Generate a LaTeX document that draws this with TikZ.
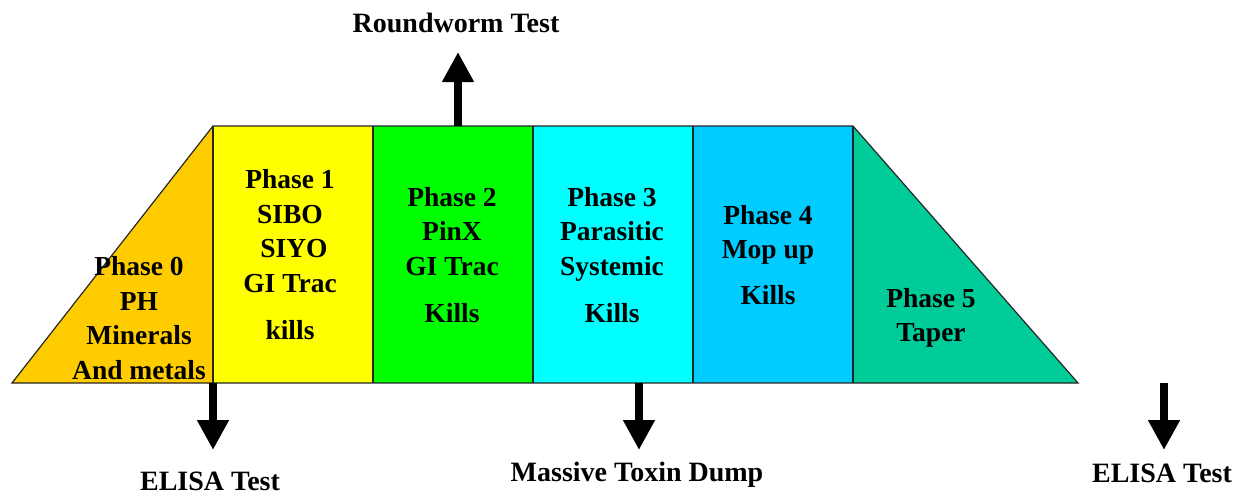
\documentclass[tikz,border=0pt]{standalone}
\usepackage{fontspec}
\setmainfont{Liberation Serif}
\usetikzlibrary{arrows.meta}
\definecolor{cOrange}{HTML}{FFCC00}
\definecolor{cYellow}{HTML}{FFFF00}
\definecolor{cGreen}{HTML}{00FF00}
\definecolor{cCyan}{HTML}{00FFFF}
\definecolor{cBlue}{HTML}{00CCFF}
\definecolor{cTeal}{HTML}{00CC99}
\tikzset{
  phaseshape/.style={draw=black!85, line width=1.2pt, line join=miter},
  phasetext/.style={font=\fontsize{27.5}{34.5}\selectfont\bfseries, align=center, inner sep=0pt},
  labeltext/.style={font=\fontsize{28}{32}\selectfont\bfseries, inner sep=0pt},
  bigarrow/.style={line width=8pt, -{Triangle[width=30pt,length=30pt]}}
}
\begin{document}
\begin{tikzpicture}[x=1pt,y=-1pt]
\useasboundingbox (0,0) rectangle (1247,496);
% shapes
\fill[cOrange] (12,383) -- (213,126) -- (213,383) -- cycle;
\fill[cYellow] (213,126) rectangle (373,383);
\fill[cGreen] (373,126) rectangle (533,383);
\fill[cCyan] (533,126) rectangle (693,383);
\fill[cBlue] (693,126) rectangle (853,383);
\fill[cTeal] (853,126) -- (1078,383) -- (853,383) -- cycle;
\draw[phaseshape] (12,383) -- (213,126) -- (853,126) -- (1078,383) -- cycle;
\foreach \xx in {213,373,533,693,853} \draw[phaseshape] (\xx,126) -- (\xx,383);
% texts
\node[phasetext] (p0) at (139,318) {Phase 0\\PH\\Minerals\\And metals};
\node[phasetext] (p1) at (290,255) {Phase 1\\SIBO\\\hspace*{8pt}SIYO\\GI Trac\\[13pt]kills};
\node[phasetext] (p2) at (452,255) {Phase 2\\PinX\\GI Trac\\[13pt]Kills};
\node[phasetext] (p3) at (612,255) {Phase 3\\Parasitic\\Systemic\\[13pt]Kills};
\node[phasetext] (p4) at (768,255) {Phase 4\\Mop up\\[11pt]Kills};
\node[phasetext] (p5) at (931,318) {Phase 5\\Taper};
% arrows
\coordinate (rwS) at (458,126);
\coordinate (rwE) at (458,52);
\coordinate (e1S) at (213,383);
\coordinate (e1E) at (213,450);
\coordinate (mS) at (639,383);
\coordinate (mE) at (639,450);
\coordinate (e2S) at (1164,383);
\coordinate (e2E) at (1164,450);
\draw[bigarrow] (rwS) -- (rwE);
\draw[bigarrow] (e1S) -- (e1E);
\draw[bigarrow] (mS) -- (mE);
\draw[bigarrow] (e2S) -- (e2E);
\node[labeltext] (rw) at (456,23) {Roundworm Test};
\node[labeltext] (e1) at (210,481) {ELISA Test};
\node[labeltext] (md) at (637,475) {Massive Toxin Dump};
\node[labeltext] (e2) at (1162,473) {ELISA Test};
\end{tikzpicture}
\end{document}
